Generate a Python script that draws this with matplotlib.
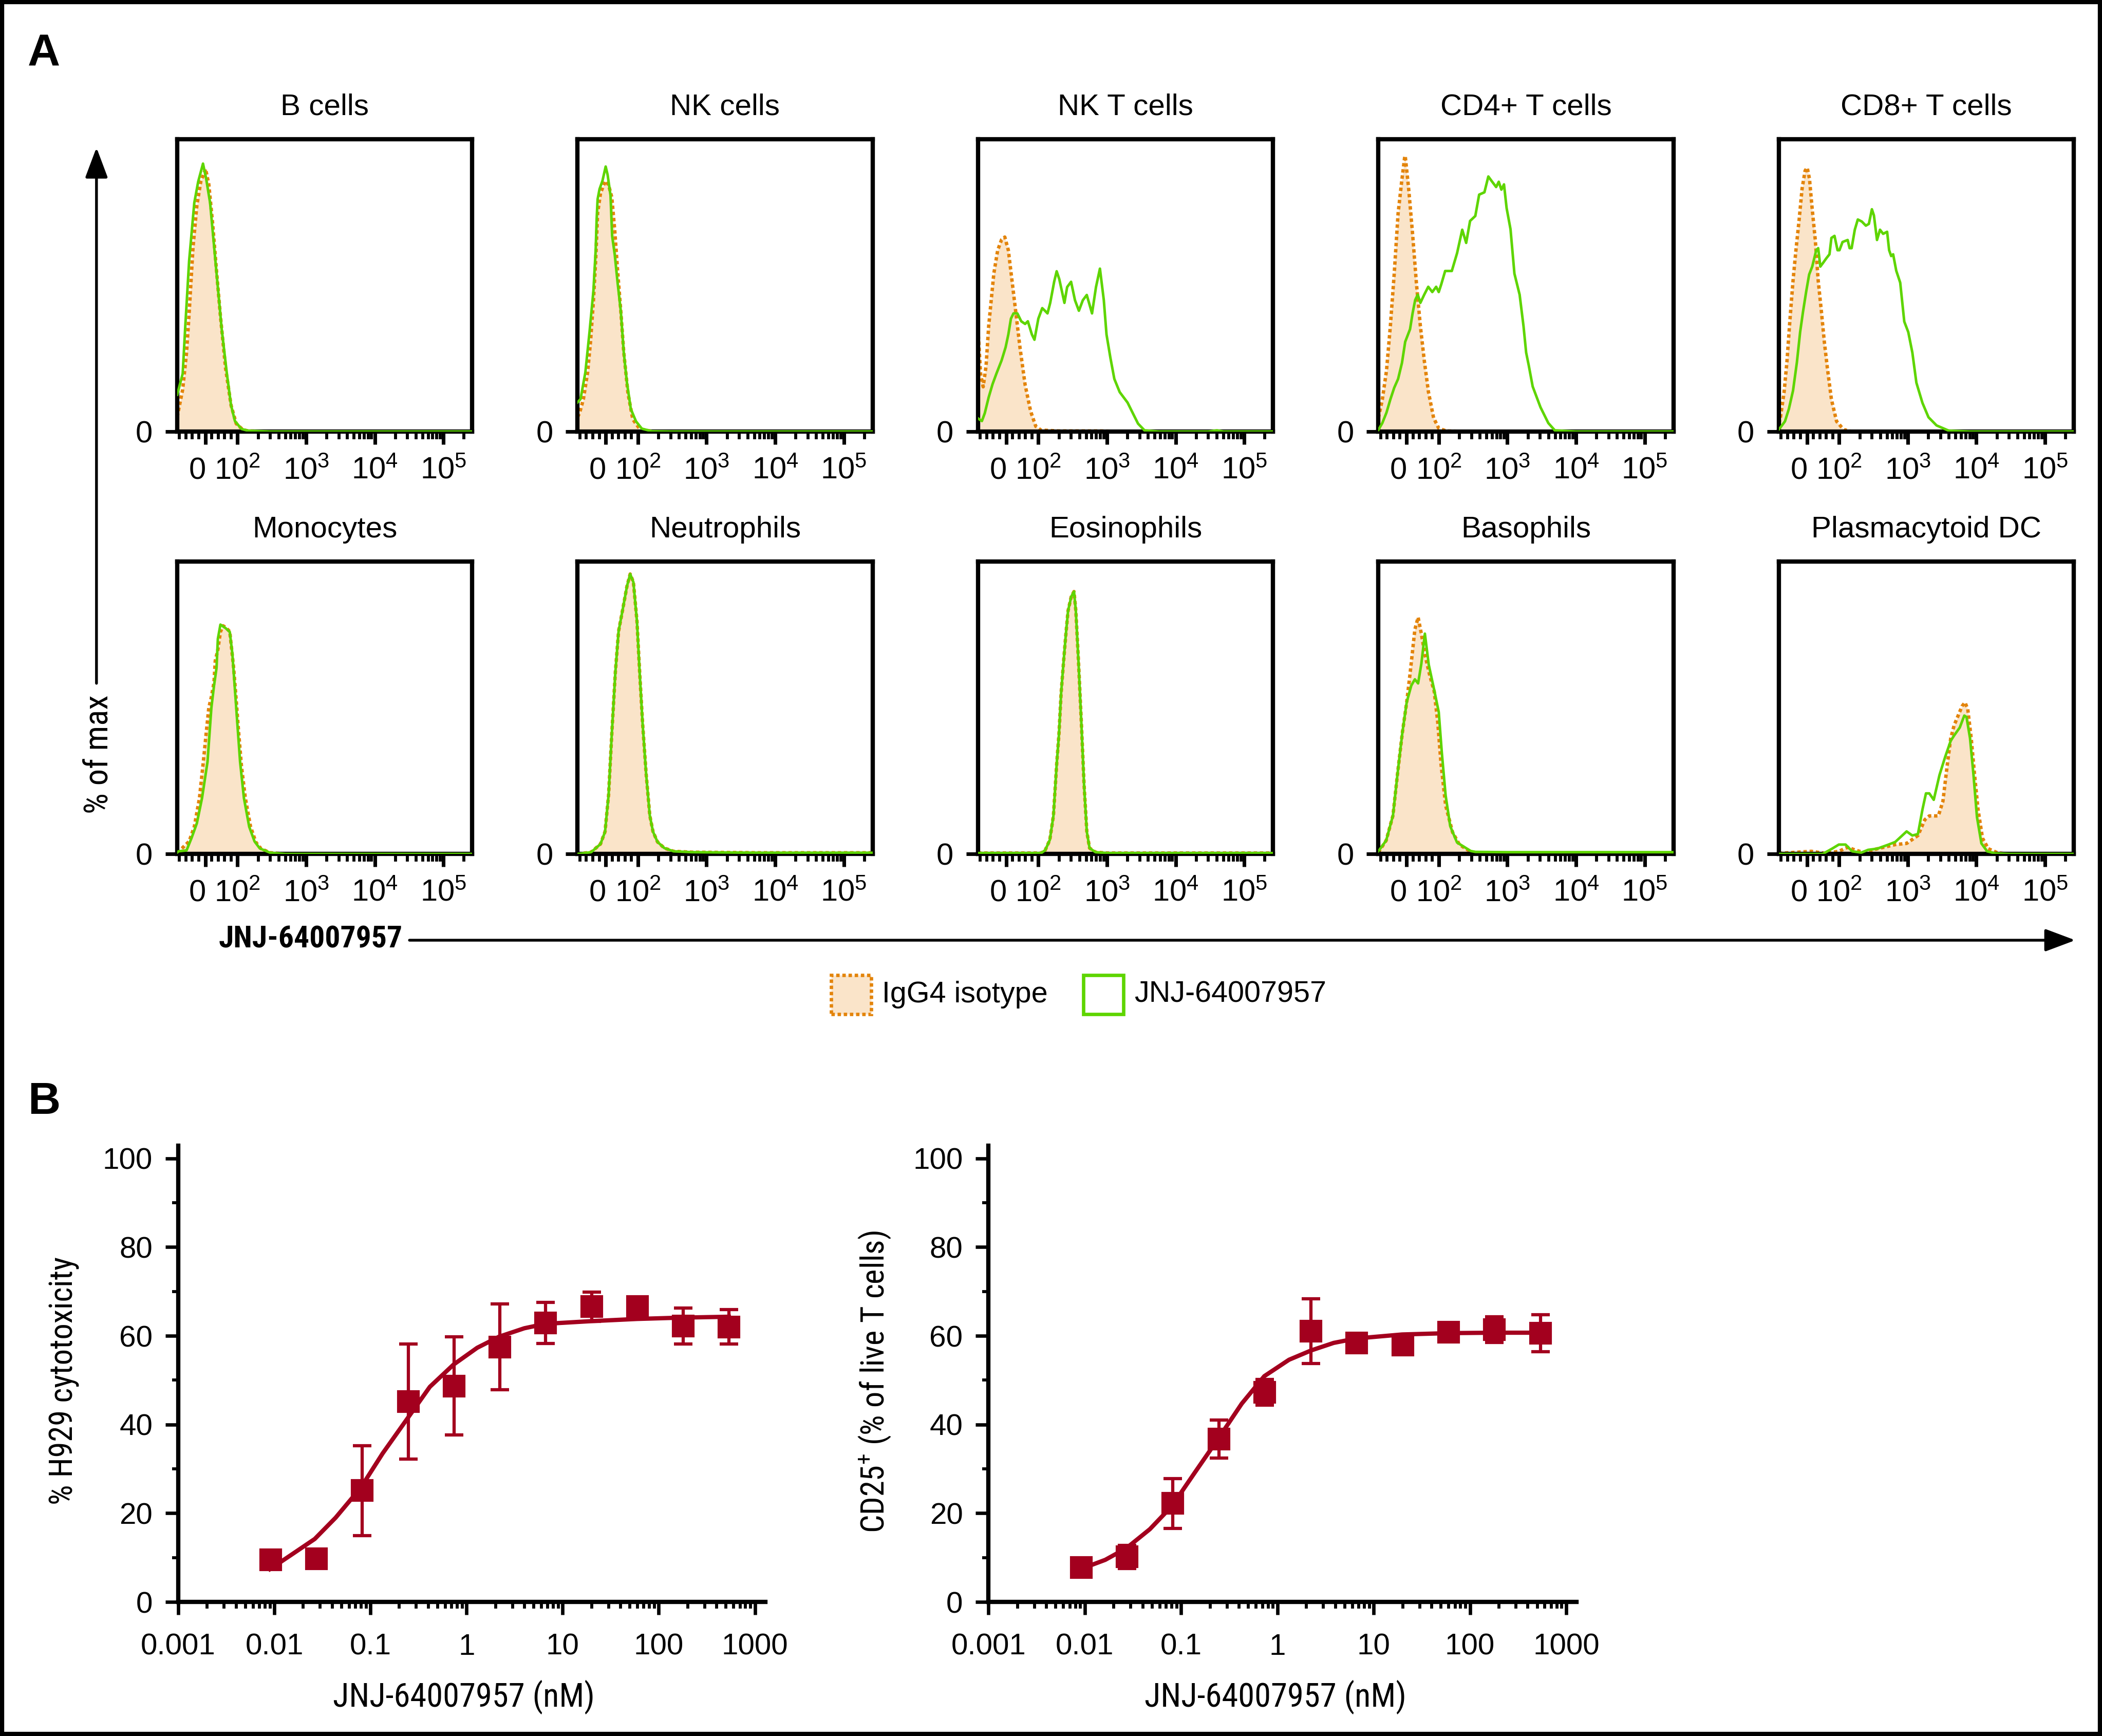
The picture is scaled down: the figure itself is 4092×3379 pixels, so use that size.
import numpy as np
import matplotlib
matplotlib.use('Agg')
import matplotlib.pyplot as plt
from matplotlib import font_manager as fm
from matplotlib.ticker import FixedLocator, FixedFormatter, NullFormatter, NullLocator
from matplotlib.patches import Rectangle, FancyArrowPatch
from matplotlib.transforms import ScaledTranslation


def pick_font(cands, default):
    for c in cands:
        try:
            fm.findfont(fm.FontProperties(family=c), fallback_to_default=False)
            return c
        except Exception:
            continue
    return default


SANS = pick_font(['Liberation Sans', 'Arial', 'Noto Sans'], 'DejaVu Sans')
NARROW = pick_font(['Liberation Sans Narrow', 'Roboto Condensed', 'Open Sans Condensed',
                    'DejaVu Sans Condensed'], SANS)

plt.rcParams['font.family'] = [SANS, 'DejaVu Sans']
plt.rcParams['mathtext.fontset'] = 'custom'
plt.rcParams['mathtext.rm'] = SANS
plt.rcParams['mathtext.sf'] = SANS
plt.rcParams['mathtext.it'] = SANS + ':italic'
plt.rcParams['mathtext.bf'] = SANS + ':bold'
plt.rcParams['mathtext.default'] = 'regular'

# ---------------------------------------------------------------- data (A)
# (fluorescence value, % of max) pairs
B_CELLS_ISO = [(-87, 5), (-83, 7.2), (-70, 14.4), (-58, 27), (-50, 40.4), (-38, 62.9), (-26, 77.3),
               (-14, 85.4), (1, 89.8), (11, 84.5), (23, 71), (35, 54.8), (47, 39.5), (63, 21.6),
               (80, 9), (96, 2.7), (119, 0.7), (142, 0.2), (300, 0), (262143, 0)]
B_CELLS_JNJ = [(-87, 12.6), (-70, 19.8), (-62, 35.9), (-50, 58.4), (-42, 68.3), (-34, 78.2),
               (-22, 85.4), (-7, 91.6), (3, 86.3), (15, 78.2), (27, 63.8), (39, 49.4), (51, 35),
               (67, 19.8), (80, 9), (92, 3.6), (114, 0.9), (142, 0.3), (300, 0), (262143, 0)]

NK_ISO = [(-87, 5), (-81, 6.3), (-69, 11.1), (-56, 20.2), (-47, 30.7), (-38, 44.6), (-31, 58.5),
          (-25, 74.6), (-16, 81.5), (-6, 84.3), (0, 85.7), (9, 84.3), (19, 80.1), (28, 69),
          (37, 55), (47, 41.1), (56, 27.2), (69, 13.2), (84, 4.2), (107, 0.8), (160, 0.1),
          (300, 0), (262143, 0)]
NK_JNJ = [(-87, 10), (-78, 11.1), (-63, 20.2), (-50, 34.1), (-38, 48.1), (-31, 62), (-28, 72.5),
          (-25, 79.4), (-19, 82.9), (-10, 85.7), (0, 90.6), (6, 87.8), (15, 80.8), (20, 66.9),
          (28, 60.6), (37, 50.9), (47, 41.1), (56, 27.2), (66, 16.7), (78, 7.7), (94, 3.5),
          (114, 1), (160, 0.1), (300, 0), (262143, 0)]

NKT_ISO = [(-87, 35), (-79, 19.8), (-71, 15.3), (-62, 22.5), (-54, 36), (-46, 45), (-38, 54),
           (-26, 62), (-14, 65.6), (-4, 66.5), (7, 62), (19, 51), (31, 40), (43, 28.8), (59, 16),
           (76, 7), (92, 1.8), (109, 0.5), (200, 0.2), (800, 0.2), (2000, 0), (262143, 0)]
NKT_JNJ = [(-87, 4.5), (-75, 3.6), (-66, 6.3), (-54, 11.7), (-42, 16.2), (-30, 19.8), (-14, 24.3),
           (-1.5, 28.8), (7, 33.2), (15, 38.6), (23, 40.4), (35, 40.4), (47, 37.7), (59, 36.8),
           (67.5, 37.7), (80, 33.2), (88, 31.4), (100, 38.6), (114, 42.2), (125, 41.3), (136, 40.4),
           (149, 44), (170, 51.2), (185, 54.8), (202, 52.1), (240, 44), (263, 49.4), (300, 51.2),
           (342, 44.9), (390, 41.3), (445, 44.9), (508, 46.7), (606, 40.4), (692, 49.4),
           (790, 55.7), (900, 44.9), (985, 33.2), (1123, 25.2), (1281, 18), (1533, 13.5),
           (1998, 9.9), (2380, 6.3), (2840, 2.7), (3530, 0.4), (5700, 0), (30000, 0),
           (40000, 0.4), (50000, 0), (262143, 0)]

CD4_ISO = [(-87, 4.7), (-75, 10.9), (-62, 20.8), (-50, 36.1), (-38, 54), (-26, 74.6), (-15, 85.4),
           (-6, 93.5), (-4, 94.3), (7, 82.7), (19, 67.4), (31, 50.4), (43, 36.1), (55, 24.4),
           (68, 13.6), (84, 4.7), (100, 1.1), (130, 0.2), (300, 0), (262143, 0)]
CD4_JNJ = [(-87, 0.6), (-75, 2.9), (-62, 6.5), (-50, 11), (-38, 15), (-26, 18), (-14, 23.5),
           (-4, 30.7), (11, 35), (19, 40.5), (27, 45), (35, 46.8), (43, 44), (55, 46.8),
           (67.5, 49.5), (80, 47.7), (92, 49.5), (100, 47.7), (109, 50.4), (124, 54.9), (155, 54.9),
           (185, 61), (220, 69), (251, 64.5), (286, 72), (341, 73.7), (388, 81), (463, 81.8),
           (528, 87.2), (601, 85.4), (686, 83.6), (749, 85.4), (818, 82.7), (893, 84.5),
           (975, 76.4), (1111, 69.2), (1267, 54), (1509, 46.8), (1720, 36), (1878, 27),
           (2050, 22.6), (2338, 15.4), (3040, 8.3), (3953, 2.9), (4920, 0.4), (10000, 0),
           (262143, 0)]

CD8_ISO = [(-87, 2.8), (-82, 4.9), (-71, 13.2), (-62, 23.7), (-53, 37.6), (-43, 51.6), (-34, 62),
           (-24, 72.5), (-15, 83), (-5.5, 89.2), (1, 90.2), (8, 86.4), (16.5, 76), (26, 65.5),
           (35, 51.6), (45, 41), (54, 30.7), (63.6, 21.6), (76, 11), (92, 3.5), (116, 0.7),
           (152, 0), (262143, 0)]
CD8_JNJ = [(-87, 0.8), (-82, 1.4), (-68, 3.5), (-56, 7.7), (-43, 14), (-31, 23.7), (-21, 34),
           (-12, 41), (-2, 48), (7, 53.7), (16.5, 56.4), (29, 62), (35, 62.7), (41.6, 56.4),
           (51, 57.8), (60, 59.2), (70, 60.6), (76, 66.2), (85.6, 66.9), (95, 62), (101, 62),
           (112, 64.8), (133, 65.5), (142, 62.7), (152, 62.7), (169, 69), (187, 72.5), (214, 71.8),
           (245, 70.4), (271, 71), (300, 76), (321, 73.9), (356, 65.5), (394, 69), (437, 67.6),
           (500, 68.3), (535, 62), (573, 60), (612, 60.6), (679, 55), (776, 50.9), (889, 37.6),
           (1017, 34), (1166, 27), (1335, 16.7), (1636, 9.8), (2003, 4.9), (2625, 2.1),
           (3960, 0.3), (8000, 0), (262143, 0)]

MONO_ISO = [(-87, 0.5), (-79, 1.2), (-50, 4.3), (-34, 9.3), (-18, 19.1), (-6, 31.5), (3, 41.4),
            (11, 50), (19, 53.7), (27, 58.6), (31, 66), (39, 69.8), (47, 75.9), (55, 78),
            (63, 77.5), (76, 76), (88, 63.6), (96, 52.5), (104, 41.4), (114, 30.2), (130, 19.1),
            (155, 9.3), (185, 4), (220, 1.8), (300, 0.4), (500, 0), (262143, 0)]
MONO_JNJ = [(-87, 0.5), (-83, 0.9), (-58, 1.2), (-42, 5.6), (-26, 10.5), (-10, 19.1), (7, 31.5),
            (19, 50), (27, 57.4), (35, 63.6), (39, 73.5), (47, 78.4), (63, 77.2), (76, 75.9),
            (84, 68.5), (92, 56.2), (100, 43.8), (109, 31.5), (124, 19.1), (148, 9.3), (177, 4.3),
            (211, 1.9), (300, 0.4), (500, 0), (262143, 0)]

NEUT_JNJ = [(-87, 0), (-45, 0.6), (-16, 3.4), (-2, 7.6), (9, 20.1), (19, 41.1), (30, 62.1),
            (40, 76.1), (52, 83.1), (66, 91.5), (76, 95.7), (86, 92.9), (97, 79.6), (106, 62.1),
            (117, 44.6), (132, 27.1), (149, 13.1), (166, 7.6), (193, 4.1), (243, 2), (331, 0.9),
            (612, 0.6), (6100, 0.4), (262143, 0.4)]
NEUT_ISO = [(-87, 0), (-45, 0.6), (-16, 3.4), (-2, 7.6), (9, 20.1), (19, 41.1), (30, 62.1),
            (40, 76.1), (52, 83.1), (66, 91.5), (76, 95.7), (86, 92.9), (97, 79.6), (106, 62.1),
            (117, 44.6), (132, 27.1), (149, 13.1), (166, 7.6), (193, 4.1), (243, 2), (331, 0.9),
            (612, 0.6), (6100, 0.4), (262143, 0.4)]

EOS_JNJ = [(-87, 0.3), (110, 0.3), (126, 1.3), (147, 4.8), (166, 13.1), (185, 30.6), (200, 41.1),
           (215, 55.1), (233, 65.6), (251, 74.7), (271, 83.1), (302, 88), (331, 89.7), (352, 83.1),
           (385, 65.6), (424, 44.6), (464, 23.6), (509, 7.6), (558, 2), (681, 0.6), (1000, 0.3),
           (262143, 0.3)]
EOS_ISO = [(-87, 0.3), (110, 0.3), (126, 1.3), (147, 4.8), (166, 13.1), (185, 30.6), (200, 41.1),
           (215, 55.1), (233, 65.6), (251, 74.7), (271, 83.1), (302, 88), (331, 89.7), (352, 83.1),
           (385, 65.6), (424, 44.6), (464, 23.6), (509, 7.6), (558, 2), (681, 0.6), (1000, 0.3),
           (262143, 0.3)]

BASO_ISO = [(-87, 0.5), (-84, 1.1), (-63, 4.6), (-42, 13.1), (-28, 27.2), (-13, 41.3), (0.7, 51.9),
            (12, 62.5), (19, 69.6), (26, 76.7), (36, 80.9), (46, 75.3), (57, 68.2), (72, 61.1),
            (86, 55.5), (97, 44.9), (108, 30.7), (126, 16.6), (159, 7.4), (200, 3.2), (293, 0.7),
            (500, 0), (262143, 0)]
BASO_JNJ = [(-87, 1), (-84, 1.4), (-63, 4.6), (-42, 13.1), (-28, 27.2), (-13, 41.3), (0.7, 51.9),
            (15, 57.6), (26, 59.7), (36, 58.3), (46, 65), (57, 75.3), (69, 64.7), (86, 56),
            (100, 48.5), (111, 34.5), (126, 20), (147, 9.5), (185, 3.9), (293, 1), (341, 0.7),
            (1000, 0.6), (262143, 0.6)]

PDC_ISO = [(-87, 0.2), (14, 0.9), (56, 0.2), (99, 0.9), (133, 2.3), (168, 1.4), (227, 0.5),
           (308, 1.4), (450, 2.3), (657, 3.2), (962, 3.6), (1406, 6.3), (1770, 11.7), (2060, 13),
           (2790, 13), (3250, 18), (3770, 30.6), (4230, 39.6), (4740, 44), (5510, 47.7),
           (6180, 50.5), (6820, 51.8), (7480, 49.5), (8400, 39.6), (9410, 27), (10550, 15.3),
           (12270, 5.4), (14870, 1.8), (20100, 0.45), (27000, 0), (262143, 0)]
PDC_JNJ = [(-87, 0), (49, 0), (78, 1.8), (99, 3.2), (124, 3.2), (155, 0.9), (210, 0.45),
           (264, 1.4), (358, 1.8), (525, 3.2), (657, 4.1), (795, 5.9), (962, 7.7), (1165, 6.3),
           (1406, 6.8), (1640, 15.3), (1840, 20.7), (2060, 20.7), (2390, 18.5), (2900, 27),
           (3520, 33.3), (4230, 38.7), (4740, 40.5), (5720, 43.2), (6660, 47.3), (7170, 46.8),
           (8070, 39.6), (9070, 27), (10190, 12.6), (11830, 3.6), (14330, 0.9), (18700, 0.2),
           (30000, 0), (262143, 0)]

HIST_TITLES = ['B cells', 'NK cells', 'NK T cells', 'CD4+ T cells', 'CD8+ T cells',
               'Monocytes', 'Neutrophils', 'Eosinophils', 'Basophils', 'Plasmacytoid DC']
HIST_ISO = [B_CELLS_ISO, NK_ISO, NKT_ISO, CD4_ISO, CD8_ISO,
            MONO_ISO, NEUT_ISO, EOS_ISO, BASO_ISO, PDC_ISO]
HIST_JNJ = [B_CELLS_JNJ, NK_JNJ, NKT_JNJ, CD4_JNJ, CD8_JNJ,
            MONO_JNJ, NEUT_JNJ, EOS_JNJ, BASO_JNJ, PDC_JNJ]
HIST_MAJOR = [0, 100, 1e3, 1e4, 1e5]
HIST_MAJOR_LABELS = ['0', r'$10^2$', r'$10^3$', r'$10^4$', r'$10^5$']
HIST_MINOR = ([-80, -60, -40, -20, 20, 40, 60, 80]
              + [k * 10 ** e for e in (2, 3, 4) for k in range(2, 10)] + [2e5])

# ---------------------------------------------------------------- data (B)
CONC = [0.00914, 0.0274, 0.0823, 0.247, 0.741, 2.22, 6.67, 20, 60, 180, 540]
CYTO = [9.5, 9.7, 25.1, 45.2, 48.7, 57.5, 62.9, 66.6, 66.6, 62.2, 62.0]
CYTO_ERR = [0, 0, 10.1, 13.0, 11.1, 9.7, 4.6, 3.3, 0, 4.1, 3.9]
CYTO_FIT_X = [0.0090, 0.0159, 0.0263, 0.0434, 0.0795, 0.134, 0.245, 0.415, 0.731, 1.29, 2.18,
              3.99, 6.59, 19.6, 59.4, 173, 535]
CYTO_FIT_Y = [7.4, 11.0, 14.2, 19.0, 25.8, 33.5, 41.5, 48.5, 53.5, 57.3, 59.8, 61.7, 62.7, 63.3,
              63.8, 64.1, 64.3]
CD25 = [7.8, 10.2, 22.2, 36.7, 47.3, 61.0, 58.4, 57.9, 60.8, 61.4, 60.6]
CD25_ERR = [0, 2.6, 5.6, 4.3, 2.9, 7.3, 0, 0, 0, 2.9, 4.2]
CD25_FIT_X = [0.0090, 0.0163, 0.0269, 0.0473, 0.0801, 0.138, 0.248, 0.426, 0.731, 1.32, 2.24,
              3.84, 6.59, 19.7, 59.4, 177, 535]
CD25_FIT_Y = [7.4, 9.5, 12.1, 16.4, 21.6, 29.1, 37.1, 44.7, 50.9, 54.6, 56.7, 58.4, 59.4, 60.3,
              60.6, 60.7, 60.7]
DOSE_MAJOR = [1e-3, 1e-2, 1e-1, 1, 10, 100, 1000]
DOSE_LABELS = ['0.001', '0.01', '0.1', '1', '10', '100', '1000']

# ---------------------------------------------------------------- style
ORANGE = '#E3840B'
PEACH = '#FAE4C9'
GREEN = '#5ED500'
RED = '#A3001E'

fig = plt.figure(figsize=(4092 / 300, 3379 / 300), dpi=300)
fig.patch.set_facecolor('white')

LEFT0, STEP, W, H = 0.0843, 0.19049, 0.1403, 0.1685
ROW_BOTTOM = [0.7514, 0.5081]

for i, (title, iso, jnj) in enumerate(zip(HIST_TITLES, HIST_ISO, HIST_JNJ)):
    r, c = divmod(i, 5)
    ax = fig.add_axes([LEFT0 + c * STEP, ROW_BOTTOM[r], W, H])
    ax.set_xscale('symlog', linthresh=100, linscale=0.423, base=10)
    xi, yi = zip(*iso)
    xj, yj = zip(*jnj)
    ax.fill_between(xi, yi, 0, color=PEACH, lw=0, zorder=1)
    ax.plot(xi, yi, color=ORANGE, lw=1.6, ls=(0, (1.0, 0.8)), zorder=2)
    ax.plot(xj, yj, color=GREEN, lw=1.2, zorder=3)
    ax.set_xlim(-87, 262143)
    ax.set_ylim(0, 100)
    for s in ax.spines.values():
        s.set_linewidth(2.0)
        s.set_color('black')
    ax.xaxis.set_major_locator(FixedLocator(HIST_MAJOR))
    ax.xaxis.set_major_formatter(FixedFormatter(HIST_MAJOR_LABELS))
    ax.xaxis.set_minor_locator(FixedLocator(HIST_MINOR))
    ax.xaxis.set_minor_formatter(NullFormatter())
    ax.yaxis.set_major_locator(FixedLocator([0]))
    ax.yaxis.set_major_formatter(FixedFormatter(['0']))
    ax.yaxis.set_minor_locator(NullLocator())
    ax.tick_params(axis='x', which='major', direction='out', length=6, width=1.7,
                   pad=16.1, labelsize=14.3, top=False)
    ax.tick_params(axis='x', which='minor', direction='out', length=3.5, width=1.4, top=False)
    ax.tick_params(axis='y', which='major', direction='out', length=5.5, width=1.7,
                   pad=6, labelsize=14.3, right=False)
    labels = ax.get_xticklabels()
    for lab in labels:
        lab.set_verticalalignment('baseline')
    labels[0].set_transform(labels[0].get_transform()
                            + ScaledTranslation(-3.7 / 72, 0, fig.dpi_scale_trans))
    ax.text(0.5, 1.109, title, transform=ax.transAxes, ha='center', va='center', fontsize=14)

# axis arrows of panel A
arrow_style = '-|>,head_length=0.8,head_width=0.3'
fig.add_artist(FancyArrowPatch((0.0459, 0.6064), (0.0459, 0.9150), transform=fig.transFigure,
                               arrowstyle=arrow_style, mutation_scale=15, lw=1.3, color='black',
                               shrinkA=0, shrinkB=0))
fig.add_artist(FancyArrowPatch((0.1948, 0.4584), (0.9873, 0.4584), transform=fig.transFigure,
                               arrowstyle=arrow_style, mutation_scale=15, lw=1.3, color='black',
                               shrinkA=0, shrinkB=0))
fig.text(0.0467, 0.5655, '% of max', rotation=90, ha='center', va='center',
         family=[NARROW, 'DejaVu Sans'], fontsize=15.5)
fig.text(0.1478, 0.4588, 'JNJ-64007957', ha='center', va='center',
         family=[NARROW, 'DejaVu Sans'], fontsize=14.3, fontweight='bold')

# legend
fig.add_artist(Rectangle((0.3954, 0.4158), 0.01906, 0.0225, transform=fig.transFigure,
                         facecolor=PEACH, edgecolor=ORANGE, lw=1.6, ls=(0, (1.0, 0.8))))
fig.text(0.4196, 0.4271, 'IgG4 isotype', ha='left', va='center', fontsize=13.8)
fig.add_artist(Rectangle((0.5154, 0.4158), 0.01906, 0.0225, transform=fig.transFigure,
                         facecolor='white', edgecolor=GREEN, lw=1.6))
fig.text(0.5396, 0.4271, 'JNJ-64007957', ha='left', va='center', fontsize=13.8)

# ---------------------------------------------------------------- panel B


def dose_panel(rect, vals, errs, fx, fy):
    ax = fig.add_axes(rect)
    ax.plot(fx, fy, color=RED, lw=2.0, zorder=2)
    ax.errorbar(CONC, vals, yerr=errs, fmt='none', ecolor=RED, elinewidth=1.5, capsize=4.3,
                capthick=1.5, zorder=3)
    ax.plot(CONC, vals, 's', color=RED, ms=9.5, zorder=4)
    ax.set_xscale('log')
    ax.set_xlim(1e-3, 1285)
    ax.set_ylim(0, 102.8)
    for side in ('top', 'right'):
        ax.spines[side].set_visible(False)
    for side in ('left', 'bottom'):
        ax.spines[side].set_linewidth(2.0)
    ax.xaxis.set_major_locator(FixedLocator(DOSE_MAJOR))
    ax.xaxis.set_major_formatter(FixedFormatter(DOSE_LABELS))
    ax.xaxis.set_minor_locator(FixedLocator([k * 10.0 ** e for e in range(-3, 3)
                                             for k in range(2, 10)]))
    ax.xaxis.set_minor_formatter(NullFormatter())
    ax.yaxis.set_major_locator(FixedLocator([0, 20, 40, 60, 80, 100]))
    ax.yaxis.set_major_formatter(FixedFormatter(['0', '20', '40', '60', '80', '100']))
    ax.yaxis.set_minor_locator(FixedLocator([10, 30, 50, 70, 90]))
    ax.tick_params(axis='both', which='major', direction='out', length=6, width=1.6,
                   labelsize=14)
    ax.tick_params(axis='both', which='minor', direction='out', length=3, width=1.4)
    ax.tick_params(axis='x', which='major', pad=8.5)
    ax.tick_params(axis='y', which='major', pad=6)
    return ax


dose_panel([0.0848, 0.0772, 0.2793, 0.2627], CYTO, CYTO_ERR, CYTO_FIT_X, CYTO_FIT_Y)
dose_panel([0.4703, 0.0772, 0.2798, 0.2627], CD25, CD25_ERR, CD25_FIT_X, CD25_FIT_Y)

fig.text(0.0305, 0.2046, '% H929 cytotoxicity', rotation=90, ha='center', va='center',
         family=[NARROW, 'DejaVu Sans'], fontsize=15)
fig.text(0.4160, 0.2042, r'CD25$^{+}$ (% of live T cells)', rotation=90, ha='center',
         va='center', family=[NARROW, 'DejaVu Sans'], fontsize=15)
fig.text(0.2207, 0.0225, 'JNJ-64007957 (nM)', ha='center', va='center',
         family=[NARROW, 'DejaVu Sans'], fontsize=15.5)
fig.text(0.6068, 0.0225, 'JNJ-64007957 (nM)', ha='center', va='center',
         family=[NARROW, 'DejaVu Sans'], fontsize=15.5)

# panel letters and frame
fig.text(0.021, 0.969, 'A', ha='center', va='center', fontsize=21, fontweight='bold')
fig.text(0.021, 0.365, 'B', ha='center', va='center', fontsize=21, fontweight='bold')
fig.add_artist(Rectangle((0.001, 0.0012), 0.998, 0.9976, transform=fig.transFigure,
                         fill=False, edgecolor='black', lw=2.0))

fig.savefig('out.png', dpi=300, facecolor='white')
